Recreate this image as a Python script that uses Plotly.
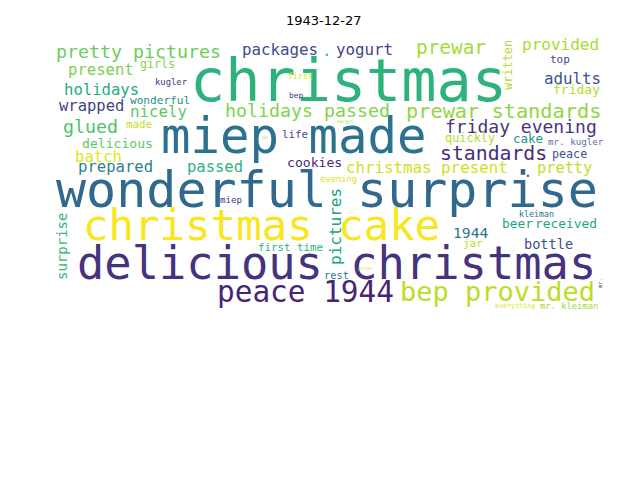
import plotly.graph_objects as go

# word cloud for one diary entry, words placed in pixel space of the 640x480 picture
title = "1943-12-27"

words = ["christmas", "miep made", "wonderful surprise", "christmas cake",
         "delicious christmas", "peace 1944", "bep provided", "pretty pictures",
         "packages", ".", "yogurt", "prewar", "written", "provided", "present",
         "girls", "top", "adults", "friday", "holidays", "kugler", "first", "bep",
         "wrapped", "wonderful", "holidays passed", "prewar standards", "glued",
         "nicely", "made", "life", "us", "margot", "friday evening", "quickly",
         "cake", "mr. kugler", "standards", "peace", "delicious", "batch",
         "prepared", "passed", "cookies", "christmas present", ".", "pretty",
         "evening", "miep", "surprise", "pictures", "1944", "beer", "received",
         "kleiman", "jar", "bottle", "rest", "first time", "prior", "everything",
         "mr. kleiman", "mr."]

x_mid = [348, 294, 327, 261, 336, 305, 497, 138,
         280, 327, 364, 451, 508, 560, 101,
         157, 560, 572, 576, 101, 171, 300, 296,
         91, 160, 307, 503, 90,
         158, 139, 295, 265, 345, 521, 470,
         528, 576, 493, 569, 117, 98,
         115, 215, 314, 427, 528, 564,
         338, 231, 62, 335, 471, 517, 566,
         536, 473, 548, 336, 290, 365, 515,
         569, 600]

y_base = [100, 153, 206, 239, 278, 302, 300, 58,
          55, 56, 55, 54, 65, 50, 75,
          68, 63, 84, 94, 95, 85, 79, 98,
          111, 104, 117, 118, 133,
          117, 128, 138, 139, 123, 132, 142,
          143, 145, 160, 158, 148, 162,
          172, 172, 167, 173, 177, 173,
          182, 203, 247, 227, 237, 228, 228,
          217, 247, 248, 278, 251, 270, 308,
          309, 283]

sizes = [58.5, 49, 50, 42.4, 45.4, 29.4, 27, 18.3,
         15.8, 16, 15.8, 19.4, 11.9, 16, 15.6,
         11.7, 11, 15.8, 13, 15.6, 8.9, 8.3, 7.8,
         15.5, 11.1, 18.3, 20.3, 18.3,
         15.8, 10.8, 10.8, 5, 4.5, 18, 11.9,
         12.5, 9.2, 19.8, 11.7, 13.1, 15.6,
         15.6, 15.5, 13.1, 15.8, 16, 15.3,
         8.8, 9.2, 14, 16, 14.7, 12.9, 12.9,
         8.3, 11, 13.6, 10.4, 10.8, 5, 6.7,
         8.8, 5.5]

colors = ["#2db27d", "#2c728e", "#31688e", "#f8e621", "#46337e", "#482475", "#bade28", "#6ccd5a",
          "#3e4c8a", "#35b779", "#404588", "#a5db36", "#b0dd2f", "#a8db34", "#7ad151",
          "#86d549", "#3f4889", "#3b528b", "#b5de2b", "#25ac82", "#453781", "#d8e219", "#424086",
          "#414487", "#21908d", "#7fd34e", "#90d743", "#4ec36b",
          "#5ec962", "#c2df23", "#3e4989", "#b5de2b", "#b5de2b", "#463480", "#b2dd2d",
          "#21918c", "#5c6fa0", "#472d7b", "#3b528b", "#5ac864", "#e2e418",
          "#2c7f8e", "#2fb283", "#482878", "#d0e11c", "#2c728e", "#bddf26",
          "#d8e219", "#46307e", "#35b779", "#20a386", "#2a768e", "#1fa088", "#22a785",
          "#2c728e", "#b8de29", "#3d4e8a", "#2a788e", "#2ab07f", "#c8e020", "#dde318",
          "#a2da37", "#3b528b"]

vertical = {"written", "surprise", "pictures", "mr."}

# the page puts the figure 8px in from the top-left corner
PAD = 8
W, H = 640 - PAD, 480 - PAD

fig = go.Figure()
fig.add_trace(go.Scatter(x=[PAD, 640], y=[PAD, 480], mode="markers",
                         marker=dict(opacity=0), hoverinfo="skip", showlegend=False))

for w, x, yb, s, c in zip(words, x_mid, y_base, sizes, colors):
    if w in vertical:
        fig.add_annotation(x=x, y=yb, text=w, showarrow=False, textangle=-90,
                           xanchor="center", yanchor="middle",
                           font=dict(family="DejaVu Sans Mono", size=s, color=c))
    else:
        fig.add_annotation(x=x, y=yb - 0.33 * s, text=w, showarrow=False,
                           xanchor="center", yanchor="middle",
                           font=dict(family="DejaVu Sans Mono", size=s, color=c))

fig.add_annotation(x=0.5, y=1 - (20 - PAD) / H, xref="paper", yref="paper",
                   text=title, showarrow=False, xanchor="center", yanchor="middle",
                   font=dict(family="DejaVu Sans", size=13, color="black"))

fig.update_layout(
    width=W, height=H,
    margin=dict(l=0, r=0, t=0, b=0),
    paper_bgcolor="white", plot_bgcolor="white",
    xaxis=dict(range=[PAD, 640], visible=False, fixedrange=True),
    yaxis=dict(range=[480, PAD], visible=False, fixedrange=True),
)

fig.write_html("out.html")
